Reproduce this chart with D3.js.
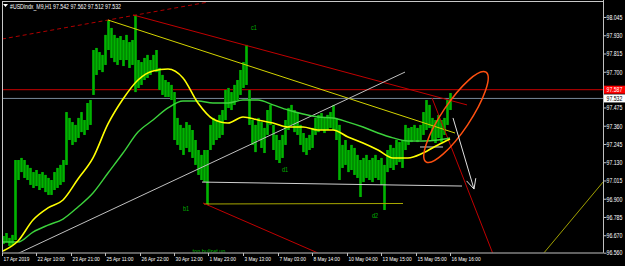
<!DOCTYPE html>
<html>
<head>
<meta charset="utf-8">
<script src="https://cdn.jsdelivr.net/npm/d3@7"></script>
<style>
body { margin: 0; background: #000; }
svg { display: block; }
text { font-family: "Liberation Sans", Arial, sans-serif; font-size: 6.5px; }
</style>
</head>
<body>
<div class="chart"></div>
<script>
// chart header
var symbol = '#USDindx_M9,H1';
var ohlc = [97.542, 97.562, 97.512, 97.532];
var askPrice = 97.587;
var bidPrice = 97.532;

// axes
var priceTicks = [98.045, 97.930, 97.815, 97.700, 97.475, 97.360, 97.245, 97.130, 97.015, 96.900, 96.785, 96.670, 96.560];
var timeLabels = ['17 Apr 2019', '22 Apr 10:00', '23 Apr 21:00', '25 Apr 11:00', '26 Apr 22:00', '30 Apr 12:00',
    '1 May 23:00', '3 May 13:00', '7 May 03:00', '8 May 14:00', '10 May 04:00', '13 May 15:00', '15 May 05:00', '16 May 16:00'];
var timeTickBars = [-1, 33, 68, 102, 137, 171, 205, 240, 275, 309, 344, 378, 413, 447];

// H1 bars, one high/low pair every 3 bars
var barStep = 3;
var barHigh = [96.665, 96.684, 96.653, 96.672, 97.144, 97.144, 97.157, 97.144, 97.113, 97.094,
    97.068, 97.081, 97.056, 97.068, 97.050, 97.031, 97.018, 97.068, 97.094, 97.113,
    97.144, 97.446, 97.409, 97.383, 97.365, 97.409, 97.446, 97.396, 97.503, 97.522,
    97.837, 97.850, 97.824, 97.806, 97.932, 98.026, 97.976, 97.932, 97.913, 97.925,
    97.900, 97.932, 97.887, 97.900, 98.058, 97.774, 97.761, 97.787, 97.806, 97.774,
    97.806, 97.837, 97.724, 97.680, 97.648, 97.635, 97.617, 97.572, 97.409, 97.365,
    97.346, 97.383, 97.365, 97.333, 97.270, 97.207, 97.176, 97.207, 97.207, 97.365,
    97.409, 97.396, 97.428, 97.459, 97.585, 97.598, 97.572, 97.617, 97.648, 97.711,
    97.761, 97.869, 97.585, 97.396, 97.365, 97.409, 97.383, 97.346, 97.459, 97.491,
    97.365, 97.302, 97.270, 97.302, 97.396, 97.472, 97.491, 97.459, 97.446, 97.365,
    97.314, 97.283, 97.302, 97.346, 97.409, 97.428, 97.440, 97.409, 97.428, 97.446,
    97.491, 97.409, 97.365, 97.239, 97.270, 97.207, 97.239, 97.220, 97.176, 97.144,
    97.157, 97.176, 97.144, 97.157, 97.176, 97.144, 97.157, 97.113, 97.207, 97.239,
    97.220, 97.270, 97.257, 97.270, 97.365, 97.346, 97.352, 97.365, 97.346, 97.365,
    97.446, 97.522, 97.491, 97.409, 97.396, 97.428, 97.396, 97.409, 97.522, 97.566];
var barLow = [96.615, 96.627, 96.602, 96.609, 96.640, 97.018, 97.068, 97.031, 97.018, 96.987,
    96.968, 96.980, 96.955, 96.968, 96.942, 96.924, 96.924, 96.955, 96.968, 96.987,
    97.005, 97.113, 97.270, 97.239, 97.257, 97.283, 97.320, 97.302, 97.333, 97.365,
    97.554, 97.680, 97.711, 97.698, 97.743, 97.837, 97.787, 97.761, 97.743, 97.774,
    97.736, 97.774, 97.724, 97.743, 97.572, 97.598, 97.617, 97.648, 97.661, 97.680,
    97.711, 97.698, 97.585, 97.554, 97.541, 97.541, 97.522, 97.270, 97.239, 97.207,
    97.176, 97.220, 97.194, 97.157, 97.113, 97.050, 97.018, 97.005, 96.861, 97.207,
    97.239, 97.270, 97.283, 97.302, 97.396, 97.472, 97.459, 97.491, 97.522, 97.554,
    97.598, 97.617, 97.365, 97.239, 97.194, 97.270, 97.220, 97.188, 97.302, 97.365,
    97.207, 97.144, 97.125, 97.157, 97.239, 97.333, 97.365, 97.320, 97.302, 97.239,
    97.194, 97.176, 97.207, 97.220, 97.302, 97.320, 97.333, 97.314, 97.333, 97.346,
    97.333, 97.270, 97.018, 97.094, 97.113, 97.068, 97.081, 97.050, 97.031, 96.911,
    97.005, 97.031, 97.018, 97.005, 97.031, 97.018, 96.987, 96.829, 97.068, 97.094,
    97.081, 97.113, 97.131, 97.094, 97.207, 97.239, 97.257, 97.270, 97.257, 97.270,
    97.302, 97.333, 97.346, 97.270, 97.251, 97.283, 97.257, 97.302, 97.365, 97.459];

// moving averages, one value every 15 bars
var maStep = 15;
var maFast = [96.571, 96.634, 96.766, 96.842, 96.892, 97.024, 97.157, 97.371, 97.528, 97.648,
    97.705, 97.717, 97.661, 97.503, 97.402, 97.377, 97.415, 97.396, 97.377, 97.352,
    97.352, 97.333, 97.333, 97.289, 97.251, 97.207, 97.157, 97.157, 97.188, 97.239, 97.276];
var maSlow = [96.627, 96.627, 96.690, 96.734, 96.772, 96.848, 96.936, 97.062, 97.188, 97.320,
    97.396, 97.472, 97.516, 97.516, 97.503, 97.503, 97.522, 97.522, 97.491, 97.459,
    97.434, 97.415, 97.409, 97.383, 97.352, 97.314, 97.283, 97.264, 97.264, 97.270, 97.283];
var lastBar = 447;

// drawn objects: anchors in (bar, price)
var trendlines = [
    {name: 'resistDash', b1: -1, p1: 97.906, b2: 205, p2: 98.139},
    {name: 'redDown', b1: 130, p1: 98.058, b2: 464, p2: 97.491},
    {name: 'yellowDown', b1: 105, p1: 98.026, b2: 452, p2: 97.314},
    {name: 'grayUp', b1: 14, p1: 96.552, b2: 402, p2: 97.698},
    {name: 'grayFlat', b1: 199, p1: 97.005, b2: 459, p2: 96.980},
    {name: 'yellowFlat', b1: 201, p1: 96.867, b2: 400, p2: 96.870},
    {name: 'redB1', b1: 200, p1: 96.873, b2: 315, p2: 96.558},
    {name: 'redSteep', b1: 429, p1: 97.535, b2: 490, p2: 96.552},
    {name: 'yellowBR', b1: 540, p1: 96.552, b2: 600, p2: 97.005},
    {name: 'grayShort', b1: 417, p1: 97.226, b2: 440, p2: 97.226}
];
var arrowLine = {b1: 450, p1: 97.409, b2: 471, p2: 96.961};
var ellipseAxis = {b1: 423, p1: 97.133, b2: 483, p2: 97.697};
var textMarks = [
    {text: 'c1', b: 251, p: 97.963},
    {text: 'd1', b: 282, p: 97.068},
    {text: 'b1', b: 183, p: 96.823},
    {text: 'd2', b: 372, p: 96.779},
    {text: 'top bullset up', b: 206, p: 96.552}
];

var lineStyle = {
    resistDash: {color: '#b00000', dash: '4,3'},
    redDown: {color: '#c00000'},
    yellowDown: {color: '#d4d400'},
    grayUp: {color: '#c0c0c0'},
    grayFlat: {color: '#d0d0d0'},
    yellowFlat: {color: '#a8a800'},
    redB1: {color: '#c00000'},
    redSteep: {color: '#c00000'},
    yellowBR: {color: '#a0a000'},
    grayShort: {color: '#d0d0d0'}
};

var width = 625, height = 266;
var plotLeft = 2, plotRight = 603.5, plotTop = 2, plotBottom = 253;

var svg = d3.select('.chart')
    .append('svg')
    .attr('width', width)
    .attr('height', height)
    .style('background', '#000');

var x = d3.scaleLinear().domain([0, 600]).range([3, 603]);
var y = d3.scaleLinear().domain([96.560, 98.045]).range([252.7, 17]);

// squeeze text to look like the narrow terminal font
function squeeze(sel, k) {
    sel.each(function() {
        var w = this.getComputedTextLength();
        if (w > 0) {
            d3.select(this).attr('textLength', w * (k || 0.8)).attr('lengthAdjust', 'spacingAndGlyphs');
        }
    });
}

svg.append('clipPath').attr('id', 'plot')
    .append('rect')
    .attr('x', plotLeft).attr('y', plotTop)
    .attr('width', plotRight - plotLeft).attr('height', plotBottom - plotTop);

var plot = svg.append('g').attr('clip-path', 'url(#plot)');

// frame
svg.append('line').attr('x1', plotLeft + 0.5).attr('x2', plotLeft + 0.5).attr('y1', plotTop).attr('y2', plotBottom)
    .attr('stroke', '#c8c8c8');
svg.append('line').attr('x1', plotLeft).attr('x2', plotRight).attr('y1', 1.5).attr('y2', 1.5)
    .attr('stroke', '#c8c8c8');

// ask / bid lines
plot.append('line').attr('x1', plotLeft).attr('x2', plotRight)
    .attr('y1', y(askPrice)).attr('y2', y(askPrice))
    .attr('stroke', '#c80000');
plot.append('line').attr('x1', plotLeft).attr('x2', plotRight)
    .attr('y1', y(bidPrice)).attr('y2', y(bidPrice))
    .attr('stroke', '#778899');

// price bars
plot.selectAll('rect.bar')
    .data(barHigh)
    .enter()
    .append('rect')
    .attr('class', 'bar')
    .attr('x', function(d, i){ return x(i * barStep) - 1; })
    .attr('width', 3)
    .attr('y', function(d){ return y(d); })
    .attr('height', function(d, i){ return Math.max(1, y(barLow[i]) - y(d)); })
    .style('fill', '#009000');
plot.selectAll('line.barline')
    .data(barHigh)
    .enter()
    .append('line')
    .attr('class', 'barline')
    .attr('x1', function(d, i){ return x(i * barStep) + 0.5; })
    .attr('x2', function(d, i){ return x(i * barStep) + 0.5; })
    .attr('y1', function(d){ return y(d); })
    .attr('y2', function(d, i){ return y(barLow[i]); })
    .attr('stroke', '#00b400');

// trendlines
plot.selectAll('line.trend')
    .data(trendlines)
    .enter()
    .append('line')
    .attr('class', 'trend')
    .attr('x1', function(d){ return x(d.b1); })
    .attr('y1', function(d){ return y(d.p1); })
    .attr('x2', function(d){ return x(d.b2); })
    .attr('y2', function(d){ return y(d.p2); })
    .attr('stroke', function(d){ return lineStyle[d.name].color; })
    .attr('stroke-dasharray', function(d){ return lineStyle[d.name].dash || null; })
    .attr('stroke-width', 1);

// moving averages
var maLine = d3.line()
    .x(function(d, i){ return x(Math.min(i * maStep, lastBar)); })
    .y(function(d){ return y(d); })
    .curve(d3.curveMonotoneX);

plot.append('path').datum(maSlow)
    .attr('d', maLine)
    .attr('fill', 'none')
    .attr('stroke', '#3cd23c')
    .attr('stroke-width', 1.4);
plot.append('path').datum(maFast)
    .attr('d', maLine)
    .attr('fill', 'none')
    .attr('stroke', '#ffff00')
    .attr('stroke-width', 1.6);

// ellipse
var ex1 = x(ellipseAxis.b1), ey1 = y(ellipseAxis.p1);
var ex2 = x(ellipseAxis.b2), ey2 = y(ellipseAxis.p2);
var erx = Math.hypot(ex2 - ex1, ey2 - ey1) / 2;
var eang = Math.atan2(ey2 - ey1, ex2 - ex1) * 180 / Math.PI;
plot.append('ellipse')
    .attr('cx', 0).attr('cy', 0)
    .attr('rx', erx).attr('ry', erx * 0.26)
    .attr('transform', 'translate(' + ((ex1 + ex2) / 2) + ',' + ((ey1 + ey2) / 2) + ') rotate(' + eang + ')')
    .attr('fill', 'none')
    .attr('stroke', '#ff5010')
    .attr('stroke-width', 1.5);

// arrow
var ax1 = x(arrowLine.b1), ay1 = y(arrowLine.p1);
var ax2 = x(arrowLine.b2), ay2 = y(arrowLine.p2);
var aang = Math.atan2(ay2 - ay1, ax2 - ax1);
var head = 11;
var arrowPath = d3.path();
arrowPath.moveTo(ax1, ay1);
arrowPath.lineTo(ax2, ay2);
arrowPath.moveTo(ax2 - head * Math.cos(aang - 0.45), ay2 - head * Math.sin(aang - 0.45));
arrowPath.lineTo(ax2, ay2);
arrowPath.lineTo(ax2 - head * Math.cos(aang + 0.45), ay2 - head * Math.sin(aang + 0.45));
plot.append('path')
    .attr('d', arrowPath.toString())
    .attr('fill', 'none')
    .attr('stroke', '#e0e0e0')
    .attr('stroke-width', 1);

// text marks
plot.selectAll('text.mark')
    .data(textMarks)
    .enter()
    .append('text')
    .attr('class', 'mark')
    .attr('x', function(d){ return x(d.b); })
    .attr('y', function(d){ return y(d.p); })
    .attr('text-anchor', 'middle')
    .style('fill', '#00b000')
    .text(function(d){ return d.text; })
    .call(squeeze, 0.85);

// price axis
var yAxis = d3.axisRight(y)
    .tickValues(priceTicks)
    .tickFormat(d3.format('.3f'))
    .tickSize(3)
    .tickSizeOuter(0)
    .tickPadding(0);
var yg = svg.append('g')
    .attr('transform', 'translate(' + plotRight + ',0)')
    .call(yAxis);
yg.select('.domain').attr('stroke', '#c0c0c0').attr('d', 'M0,0V' + plotBottom);
yg.selectAll('.tick line').attr('stroke', '#c0c0c0');
yg.selectAll('.tick text').style('fill', '#fff').attr('dy', '0.35em').call(squeeze);

// time axis
var xAxis = d3.axisBottom(x)
    .tickValues(timeTickBars)
    .tickFormat(function(d, i){ return timeLabels[i]; })
    .tickSize(3)
    .tickSizeOuter(0)
    .tickPadding(1);
var xg = svg.append('g')
    .attr('transform', 'translate(0,' + plotBottom + ')')
    .call(xAxis);
xg.select('.domain').attr('stroke', '#808080').attr('stroke-width', 1.5).attr('d', 'M' + plotLeft + ',0H' + plotRight);
xg.selectAll('.tick line').attr('stroke', '#c0c0c0');
xg.selectAll('.tick text')
    .style('fill', '#fff')
    .style('font-size', '6px')
    .attr('text-anchor', 'start')
    .attr('dx', '1')
    .call(squeeze, 0.8);

// price labels on the axis
var priceTags = [{p: askPrice, bg: '#ff0000', fg: '#fff'}, {p: bidPrice, bg: '#fff', fg: '#000'}];
priceTags.forEach(function(t){
    svg.append('rect')
        .attr('x', plotRight + 0.5).attr('y', y(t.p) - 4)
        .attr('width', 21).attr('height', 8)
        .attr('fill', t.bg);
    svg.append('text')
        .attr('x', plotRight + 3).attr('y', y(t.p) + 2.3)
        .style('fill', t.fg)
        .text(d3.format('.3f')(t.p))
        .call(squeeze);
});

// title
svg.append('path').attr('d', 'M3,4H8L5.5,7Z').attr('fill', '#fff');
svg.append('text')
    .attr('x', 10).attr('y', 8.5)
    .style('fill', '#fff')
    .text(symbol + '  ' + ohlc.map(d3.format('.3f')).join(' '))
    .call(squeeze);
</script>
</body>
</html>
